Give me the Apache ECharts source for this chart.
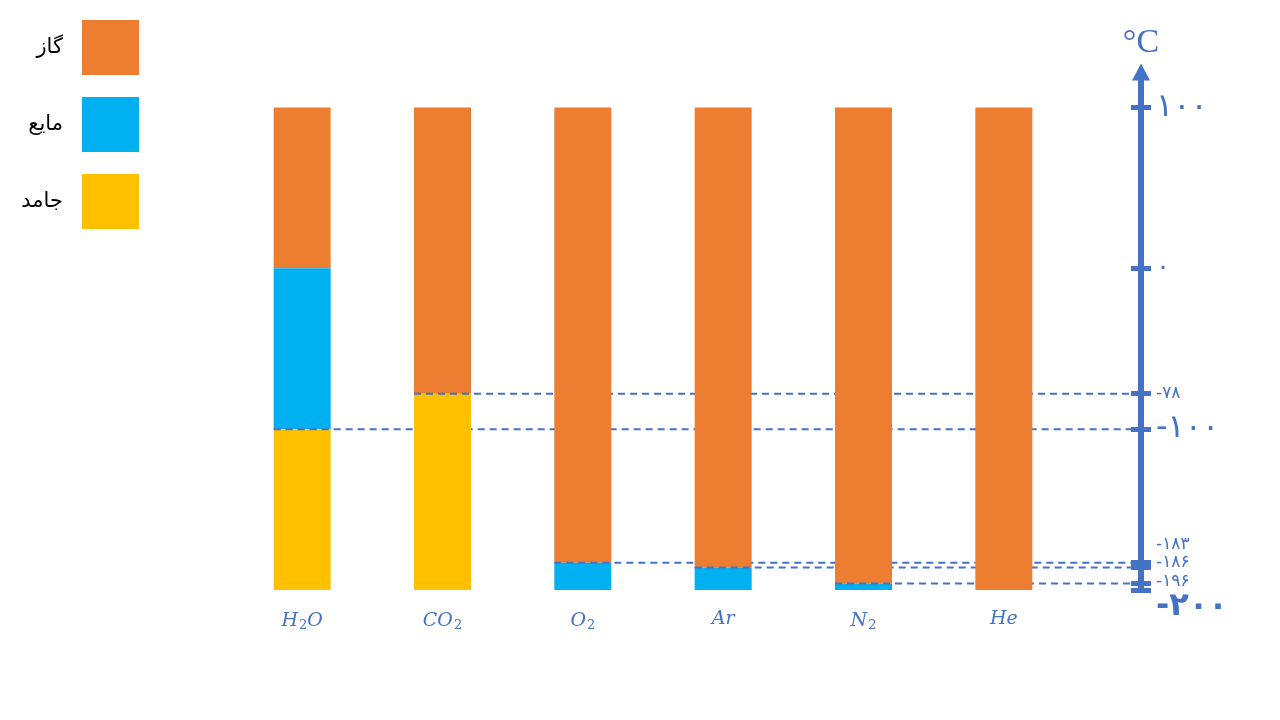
<!DOCTYPE html>
<html><head><meta charset="utf-8">
<script src="https://cdn.jsdelivr.net/npm/echarts@6/dist/echarts.min.js"></script>
<style>html,body{margin:0;padding:0;background:#fff}#c{width:1280px;height:720px}</style>
</head><body><div id="c"></div>
<script>
// ---- data ----
const categories = ['H2O', 'CO2', 'O2', 'Ar', 'N2', 'He'];
const phaseNames = ['گاز', 'مایع', 'جامد'];           // gas, liquid, solid
const gasRange    = [[0, 100], [-78, 100], [-183, 100], [-186, 100], [-196, 100], [-200, 100]];
const liquidRange = [[-100, 0], null, [-200, -183], [-200, -186], [-200, -196], null];
const solidRange  = [[-200, -100], [-200, -78], null, null, null, null];
const tickValues  = [100, 0, -78, -100, -183, -186, -196, -200];
const tickLabels  = ['۱۰۰', '۰', '-۷۸', '-۱۰۰', '-۱۸۳', '-۱۸۶', '-۱۹۶', '-۲۰۰'];
const axisMin = -200, axisTop = 100;

// ---- styles ----
const BLUE = '#4472C4';
const COLORS = ['#ED7D31', '#00B0F0', '#FFC000'];
const BAR_W = 57;
const AXIS_OFFSET = 71;
const AXIS_MAX = 122; // room above 100 for the arrow
const labelStyleKey = ['big', 'mid', 'small', 'big', 'smallUp', 'smallUp2', 'smallUp3', 'bigDown'];
// which label layer each tick label is drawn on (separate layers avoid auto-hiding of close labels)
const labelLayer = [0, 0, 0, 0, 0, 1, 2, 3];

const ranges = [gasRange, liquidRange, solidRange];

function barSeries(k) {
  const data = ranges[k].map((r, i) => r ? [i, r[0], r[1]] : null).filter(Boolean);
  return {
    type: 'custom', name: phaseNames[k], coordinateSystem: 'cartesian2d',
    itemStyle: { color: COLORS[k] }, color: COLORS[k],
    encode: { x: 0, y: [1, 2] },
    silent: true,
    data: data,
    renderItem: function (params, api) {
      const i = api.value(0);
      const lo = api.coord([i, api.value(1)]);
      const hi = api.coord([i, api.value(2)]);
      return {
        type: 'rect', z2: 2 * i,
        shape: { x: lo[0] - BAR_W / 2, y: hi[1], width: BAR_W, height: lo[1] - hi[1] },
        style: { fill: COLORS[k] }
      };
    }
  };
}

// guide lines at each substance's lowest phase boundary
const guideData = categories.map((c, i) => {
  const tops = ranges.map(r => r[i]).filter(Boolean).map(r => r[1]).filter(v => v < axisTop);
  return tops.length ? [i, Math.min.apply(null, tops)] : null;
}).filter(Boolean);

const guideSeries = {
  type: 'custom', name: 'guides', coordinateSystem: 'cartesian2d', silent: true,
  encode: { x: 0, y: 1 },
  data: guideData,
  renderItem: function (params, api) {
    const i = api.value(0);
    const p = api.coord([i, api.value(1)]);
    const cs = params.coordSys;
    const xEnd = cs.x + cs.width + AXIS_OFFSET - 13;
    return {
      type: 'line', z2: 2 * i + 1,
      shape: { x1: p[0] - BAR_W / 2, y1: p[1], x2: xEnd, y2: p[1] },
      style: { stroke: BLUE, lineWidth: 2, lineDash: [7, 5] }
    };
  }
};

const labelFont = 'DejaVu Sans';
const richStyles = {
  big: { fontFamily: labelFont, fontSize: 32, color: BLUE },
  bigDown: { fontFamily: labelFont, fontSize: 32, color: BLUE, fontWeight: 'bold', padding: [34, 0, 0, 0] },
  mid: { fontFamily: labelFont, fontSize: 26, color: BLUE },
  small: { fontFamily: labelFont, fontSize: 17, color: BLUE },
  smallUp: { fontFamily: labelFont, fontSize: 17, color: BLUE, padding: [0, 0, 36, 0] },
  smallUp2: { fontFamily: labelFont, fontSize: 17, color: BLUE, padding: [0, 0, 10, 0] },
  smallUp3: { fontFamily: labelFont, fontSize: 17, color: BLUE, padding: [0, 0, 4, 0] }
};
function labelFormatter(v) {
  const idx = tickValues.indexOf(v);
  return idx < 0 ? '' : '{' + labelStyleKey[idx] + '|' + tickLabels[idx] + '}';
}
function layerValues(layer) {
  return tickValues.filter((v, i) => labelLayer[i] === layer);
}
function yAxisLayer(layer, extra) {
  return Object.assign({
    type: 'value', position: 'right', offset: AXIS_OFFSET - 4,
    min: axisMin, max: AXIS_MAX,
    splitLine: { show: false },
    axisLine: { show: false },
    axisTick: { show: false },
    axisLabel: {
      show: true, customValues: layerValues(layer), margin: 15,
      showMinLabel: true, showMaxLabel: true, hideOverlap: false,
      formatter: labelFormatter, rich: richStyles
    }
  }, extra || {});
}

const chart = echarts.init(document.getElementById('c'));
chart.setOption({
  animation: false,
  backgroundColor: '#fff',
  grid: { left: 232, width: 842, top: 72, bottom: 130 },
  legend: {
    data: phaseNames, orient: 'vertical', align: 'right',
    right: 1136, top: 15, padding: 5,
    itemWidth: 57, itemHeight: 55, itemGap: 22, icon: 'rect',
    selectedMode: false,
    textStyle: { fontFamily: labelFont, fontSize: 21, color: '#000', padding: [0, 14, 0, 0] }
  },
  xAxis: {
    type: 'category', data: categories,
    axisLine: { show: false }, axisTick: { show: false }, splitLine: { show: false },
    axisLabel: {
      margin: 20,
      formatter: v => v.split(/(\d)/).filter(Boolean)
        .map(p => /\d/.test(p) ? '{s|' + p + '}' : '{i|' + p + '}').join(''),
      rich: {
        i: { fontFamily: 'DejaVu Serif', fontStyle: 'italic', fontSize: 19, color: BLUE },
        s: { fontFamily: 'DejaVu Serif', fontSize: 13, color: BLUE, padding: [9, 0, 0, 1] }
      }
    }
  },
  yAxis: [
    yAxisLayer(0, {
      name: '°C', nameLocation: 'end', nameGap: 12,
      nameTextStyle: { fontFamily: 'Liberation Serif', fontSize: 34, color: BLUE, align: 'center', verticalAlign: 'bottom' },
      axisLine: { show: true, symbol: ['none', 'triangle'], symbolSize: [18, 17], symbolOffset: [0, 0],
        lineStyle: { color: BLUE, width: 6 } },
      axisTick: { show: true, customValues: tickValues, length: 10, inside: false, lineStyle: { color: BLUE, width: 5 } }
    }),
    yAxisLayer(1, {
      axisTick: { show: true, customValues: tickValues, length: 10, inside: true, lineStyle: { color: BLUE, width: 5 } }
    }),
    yAxisLayer(2),
    yAxisLayer(3)
  ],
  series: [barSeries(0), barSeries(1), barSeries(2), guideSeries]
});
</script>
</body></html>
